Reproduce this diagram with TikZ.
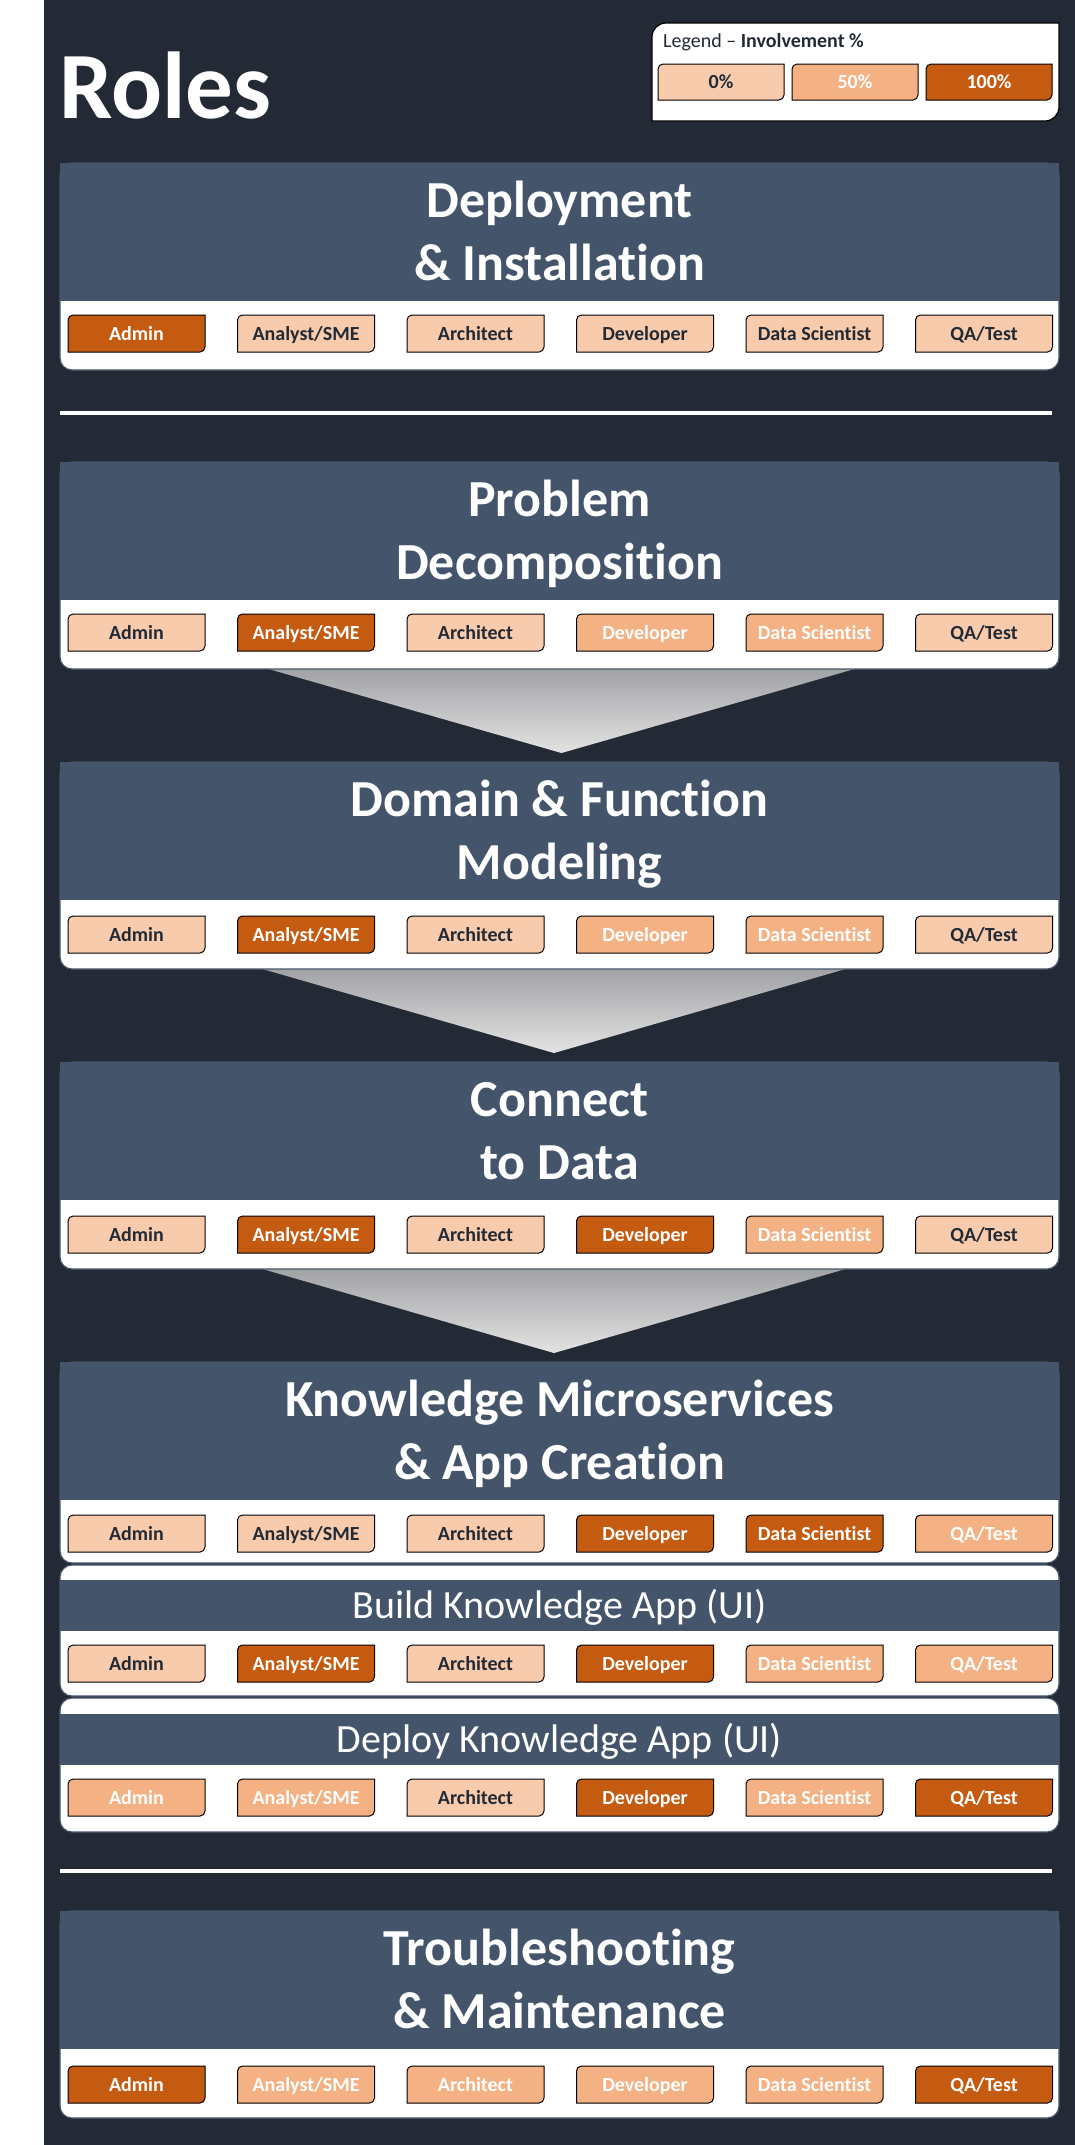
\documentclass[tikz,border=0pt]{standalone}
\usepackage{fontspec}
\setmainfont{Carlito}[Ligatures={TeX,NoCommon}]

\definecolor{bgdark}{HTML}{232A36}
\definecolor{slate}{HTML}{44546A}
\definecolor{peachA}{HTML}{F8CBAD}
\definecolor{peachB}{HTML}{F4B183}
\definecolor{rust}{HTML}{C55A11}
\definecolor{ink}{HTML}{222A35}
\definecolor{arrowtop}{HTML}{9FA0A3}
\definecolor{arrowbot}{HTML}{E3E3E3}

\newcommand\rolename[1]{\ifcase#1 Admin\or Analyst/SME\or Architect\or Developer\or Data Scientist\or QA/Test\fi}

% box with rounded top-left and bottom-right corners: style, x, y, w, h, r
\newcommand\diagbox[6]{%
  \path[#1] (#2,#3+#5) -- (#2,#3+#6)
    .. controls (#2,#3+0.45*#6) and (#2+0.45*#6,#3) .. (#2+#6,#3)
    -- (#2+#4,#3) -- (#2+#4,#3+#5-#6)
    .. controls (#2+#4,#3+#5-0.45*#6) and (#2+#4-0.45*#6,#3+#5) .. (#2+#4-#6,#3+#5)
    -- cycle;}

% one row of six role chips: name prefix, top y, six involvement levels
\newcommand\chiprow[3]{%
  \foreach \lv [count=\i from 0] in {#3}{
    \pgfmathsetmacro\cx{68+169.5*\i}
    \diagbox{chipbox,lv\lv}{\cx}{#2}{137}{37}{5}
    \node[chiptext,txt\lv] (#1-\i) at (\cx+68.5,#2+18.5) {\rolename{\i}};
  }}

\tikzset{
  chipbox/.style={draw=black, line width=1pt},
  lv0/.style={fill=peachA}, lv1/.style={fill=peachB}, lv2/.style={fill=rust},
  txt0/.style={text=ink}, txt1/.style={text=white}, txt2/.style={text=white},
  chiptext/.style={inner sep=0pt, font=\fontsize{20}{24}\selectfont\bfseries,
    text height=13pt, text depth=0pt},
  panelbox/.style={fill=white, draw=slate, line width=1.2pt, rounded corners=12pt,
    minimum width=999pt, inner sep=0pt},
  hdband/.style={fill=slate, minimum width=999pt, inner sep=0pt},
  hdtext/.style={text=white, font=\fontsize{52}{63}\selectfont\bfseries,
    inner sep=0pt, anchor=base},
  subtext/.style={text=white, font=\fontsize{40}{48}\selectfont,
    inner sep=0pt, anchor=base},
  flowarrow/.style={top color=arrowtop, bottom color=arrowbot, draw=none},
  rulewhite/.style={draw=white, line width=4pt},
  legbox/.style={fill=white, draw=black, line width=1.2pt},
}

\begin{document}
\begin{tikzpicture}[x=1pt, y=-1pt]
\useasboundingbox (0,0) rectangle (1075,2145);
\fill[white] (0,0) rectangle (1075,2145);
\fill[bgdark] (44,0) rectangle (1075,2145);

% title and legend
\node[anchor=base west, inner sep=0pt, text=white,
  font=\fontsize{95}{100}\selectfont\bfseries] (title) at (59,118) {Roles};
\diagbox{legbox}{652}{23}{407}{98}{14}
\node[anchor=base west, inner sep=0pt, text=ink, font=\fontsize{20}{24}\selectfont]
  (legtitle) at (663,47) {Legend \textendash{} \textbf{Involvement \%}};
\diagbox{chipbox,lv0}{658}{64}{126}{36}{5}
\node[chiptext,txt0] (leg0) at (721,82) {0\%};
\diagbox{chipbox,lv1}{792}{64}{126}{36}{5}
\node[chiptext,txt1] (leg50) at (855,82) {50\%};
\diagbox{chipbox,lv2}{926}{64}{126}{36}{5}
\node[chiptext,txt2] (leg100) at (989,82) {100\%};

% flow arrows between the stages
\path[flowarrow] (258,666) -- (865,666) -- (561.5,753) -- cycle;
\path[flowarrow] (252,966) -- (856,966) -- (554,1053) -- cycle;
\path[flowarrow] (252,1266) -- (856,1266) -- (554,1353) -- cycle;

% Deployment & Installation
\node[panelbox, minimum height=207pt] (p1) at (559.5,266.5) {};
\node[hdband, minimum height=138pt] (h1) at (559.5,232) {};
\node[hdtext] (h1a) at (559.5,217) {Deployment};
\node[hdtext] (h1b) at (559.5,280) {\& Installation};
\chiprow{r1}{315}{2,0,0,0,0,0}

\draw[rulewhite] (60,413) -- (1052,413);

% Problem Decomposition
\node[panelbox, minimum height=207pt] (p2) at (559.5,565.5) {};
\node[hdband, minimum height=138pt] (h2) at (559.5,531) {};
\node[hdtext] (h2a) at (559.5,516) {Problem};
\node[hdtext] (h2b) at (559.5,579) {Decomposition};
\chiprow{r2}{614}{0,2,0,1,1,0}

% Domain & Function Modeling
\node[panelbox, minimum height=207pt] (p3) at (559.5,865.5) {};
\node[hdband, minimum height=138pt] (h3) at (559.5,831) {};
\node[hdtext] (h3a) at (559.5,816) {Domain \& Function};
\node[hdtext] (h3b) at (559.5,879) {Modeling};
\chiprow{r3}{916}{0,2,0,1,1,0}

% Connect to Data
\node[panelbox, minimum height=207pt] (p4) at (559.5,1165.5) {};
\node[hdband, minimum height=138pt] (h4) at (559.5,1131) {};
\node[hdtext] (h4a) at (559.5,1116) {Connect};
\node[hdtext] (h4b) at (559.5,1179) {to Data};
\chiprow{r4}{1216}{0,2,0,2,1,0}

% Knowledge Microservices & App Creation
\node[panelbox, minimum height=201pt] (p5) at (559.5,1462.5) {};
\node[hdband, minimum height=138pt] (h5) at (559.5,1431) {};
\node[hdtext] (h5a) at (559.5,1416) {Knowledge Microservices};
\node[hdtext] (h5b) at (559.5,1479) {\& App Creation};
\chiprow{r5}{1515}{0,0,0,2,2,1}

% Build Knowledge App (UI)
\node[panelbox, minimum height=131pt] (p6) at (559.5,1630.5) {};
\node[hdband, minimum height=51pt] (h6) at (559.5,1605.5) {};
\node[subtext] (h6a) at (559.5,1618) {Build Knowledge App (UI)};
\chiprow{r6}{1645}{0,2,0,2,1,1}

% Deploy Knowledge App (UI)
\node[panelbox, minimum height=134pt] (p7) at (559.5,1765) {};
\node[hdband, minimum height=51pt] (h7) at (559.5,1739.5) {};
\node[subtext] (h7a) at (559.5,1752) {Deploy Knowledge App (UI)};
\chiprow{r7}{1779}{1,1,0,2,1,2}

\draw[rulewhite] (60,1871) -- (1052,1871);

% Troubleshooting & Maintenance
\node[panelbox, minimum height=207pt] (p8) at (559.5,2014.5) {};
\node[hdband, minimum height=138pt] (h8) at (559.5,1980) {};
\node[hdtext] (h8a) at (559.5,1965) {Troubleshooting};
\node[hdtext] (h8b) at (559.5,2028) {\& Maintenance};
\chiprow{r8}{2066}{2,1,1,1,1,2}
\end{tikzpicture}
\end{document}
